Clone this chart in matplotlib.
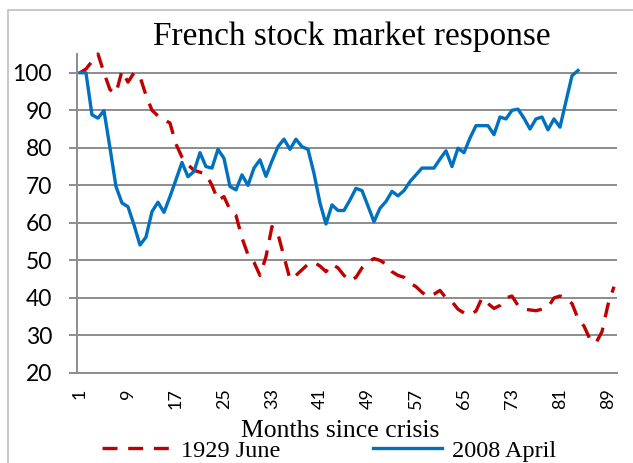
import matplotlib.pyplot as plt
from matplotlib.patches import Rectangle

# 1929 June crisis, index (start = 100)
june_1929 = [
    100, 101, 103, 105, 100, 95.5, 94.5, 100.5, 97.5, 100,
    99, 94, 90, 88.5, 87.5, 86.6, 81, 77.5, 75.5, 74,
    73.5, 73, 70, 66, 67, 63.5, 62, 56, 51.5, 49.5,
    46, 51, 59, 57, 51, 45, 46, 47.5, 49, 49.5,
    48.5, 47, 49, 48, 46, 44.5, 45.5, 48, 49.5, 50.5,
    50, 49, 47, 46, 45.5, 44, 43, 41.5, 40.3, 41,
    42, 40, 39, 37, 36, 35.5, 36.5, 40, 38.5, 37.2,
    38, 40, 40.5, 38, 37, 36.8, 36.6, 37, 37.5, 40,
    40.5, 40, 38.5, 34.5, 32.5, 29, 28, 31, 38.2, 43,
]

# 2008 April crisis, index (start = 100)
april_2008 = [
    100, 100, 88.8, 87.9, 89.9, 80, 69.7, 65.3, 64.3, 59.5,
    54.1, 56.2, 63, 65.5, 62.8, 67, 71.5, 76.1, 72.3, 73.7,
    78.7, 75, 74.6, 79.6, 77.2, 69.7, 68.8, 72.8, 70, 74.6,
    76.8, 72.4, 76.5, 80.3, 82.3, 79.6, 82.3, 80.3, 79.6, 73.2,
    65.3, 59.7, 64.8, 63.3, 63.3, 66.1, 69.2, 68.6, 64.5, 60.3,
    63.9, 65.7, 68.4, 67.2, 68.6, 71, 72.8, 74.6, 74.6, 74.6,
    77, 79.2, 75, 79.9, 78.7, 82.6, 85.9, 85.9, 85.9, 83.5,
    88.2, 87.7, 90, 90.3, 87.9, 85, 87.7, 88.2, 84.8, 87.7,
    85.5, 92.4, 99.2, 100.6,
]

months = list(range(1, 91))
tick_months = list(range(1, 91, 8))
y_ticks = list(range(20, 101, 10))

serif = "Liberation Serif"
sans = "Lato"
grey = "#8c8c8c"

fig = plt.figure(figsize=(6.33, 4.63), dpi=100)
ax = fig.add_axes([0.1216, 0.1944, 0.8531, 0.689])

ax.plot(months, june_1929, color="#C00000", lw=2.4, dashes=(4.5, 3.2),
        label="1929 June", zorder=3, clip_on=False)
ax.plot(months[:len(april_2008)], april_2008, color="#0070C0", lw=2.4,
        label="2008 April", zorder=3, clip_on=False)

ax.set_xlim(0.5, 90.5)
ax.set_ylim(20, 105)
ax.set_yticks(y_ticks)
ax.set_xticks(tick_months)
ax.set_xticklabels([str(m) for m in tick_months], rotation=90,
                   fontfamily=sans, fontsize=13)
ax.set_yticklabels([str(v) for v in y_ticks], fontfamily=sans, fontsize=16.5)
ax.tick_params(axis="x", length=0, pad=11)
ax.tick_params(axis="y", length=6, width=1.4, color=grey, pad=12)

ax.grid(axis="y", color=grey, lw=1.4)
ax.set_axisbelow(True)
for side in ["top", "right"]:
    ax.spines[side].set_visible(False)
for side in ["left", "bottom"]:
    ax.spines[side].set_color(grey)
    ax.spines[side].set_linewidth(1.4)

fig.text(0.555, 0.903, "French stock market response", ha="center",
         va="baseline", fontfamily=serif, fontsize=24)
fig.text(0.537, 0.056, "Months since crisis", ha="center", va="baseline",
         fontfamily=serif, fontsize=18.5)

fig.legend(loc="center", bbox_to_anchor=(0.52, 0.026), ncol=2, frameon=False,
           prop={"family": serif, "size": 17.5}, handlelength=2.85,
           columnspacing=3.8, handletextpad=0.4, borderpad=0)

# chart area border (only left and top edges fall inside the picture)
fig.patches.append(Rectangle((8 / 633, -0.05), 1.0, 1.05 - 10 / 463,
                             transform=fig.transFigure, fill=False,
                             edgecolor="#bfbfbf", lw=1.2))

fig.savefig("out.png", dpi=100)
